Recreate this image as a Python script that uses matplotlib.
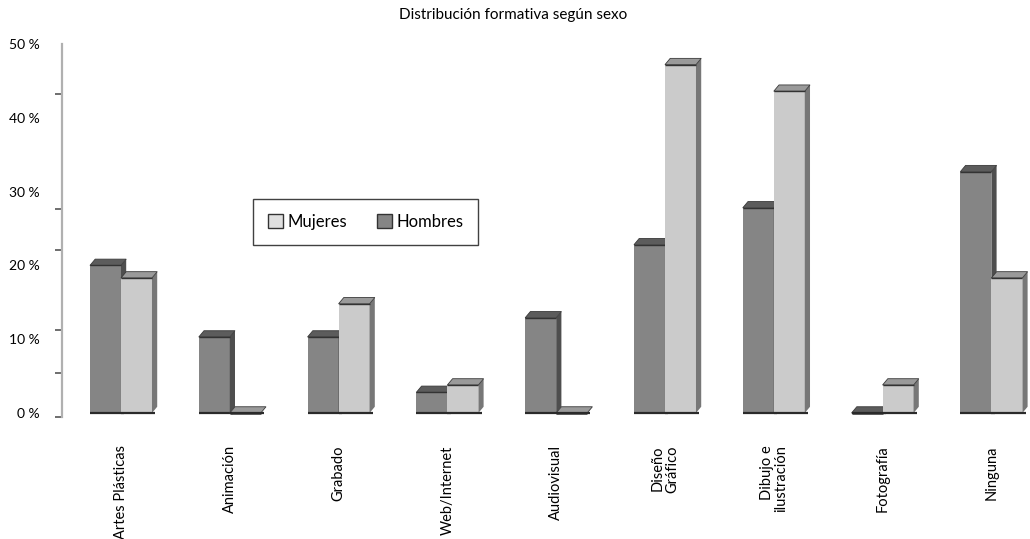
import matplotlib
matplotlib.use("Agg")
import matplotlib.pyplot as plt
from matplotlib.patches import Polygon, Patch
from matplotlib.ticker import FixedLocator

categories = ["Artes Plásticas", "Animación", "Grabado", "Web/Internet", "Audiovisual",
              "Diseño\nGráfico", "Dibujo e\nilustración", "Fotografía", "Ninguna"]
hombres = [20.0, 10.3, 10.3, 2.8, 12.9, 22.8, 27.8, 0.0, 32.7]
mujeres = [18.3, 0.0, 14.8, 3.8, 0.0, 47.2, 43.6, 3.8, 18.3]
y_ticks = [0, 10, 20, 30, 40, 50]
y_minor = [-0.5, 5.4, 11.2, 22.1, 27.6, 43.2, 50]

# face, side, top colours for each series
styles = {
    "Hombres": ("#858585", "#4e4e4e", "#5c5c5c"),
    "Mujeres": ("#cbcbcb", "#777777", "#9a9a9a"),
}

plt.rcParams["font.family"] = ["Lato", "DejaVu Sans"]

fig = plt.figure(figsize=(10.30, 5.39), dpi=100)
ax = fig.add_axes([0.0602, 0.2255, 0.9398, 0.6929])
ax.set_xlim(-0.542, 8.355)
ax.set_ylim(-0.6, 50)

width = 0.285
dx, dy = 0.048, 0.85  # depth of the pseudo-3D extrusion in data units
x = list(range(len(categories)))


def draw_3d(bars, face, side, top, z):
    for b in bars:
        x0 = b.get_x()
        x1 = x0 + b.get_width()
        h = b.get_height()
        ax.add_patch(Polygon([(x1, 0), (x1 + dx, dy), (x1 + dx, h + dy), (x1, h)],
                             closed=True, facecolor=side, edgecolor="none", zorder=z))
        ax.add_patch(Polygon([(x0, h), (x1, h), (x1 + dx, h + dy), (x0 + dx, h + dy)],
                             closed=True, facecolor=top, edgecolor="#3a3a3a",
                             linewidth=0.6, zorder=z))
        ax.plot([x0, x1], [h, h], color="#333333", lw=1.0 if h > 0 else 1.8, zorder=z + 0.1,
                solid_capstyle="butt")
        ax.plot([x0, x1 + dx * 0.6], [0, 0], color="#2a2a2a", lw=1.6, zorder=z + 0.1,
                solid_capstyle="butt")


xs_h = [i - width / 2 for i in x]
xs_m = [i + width / 2 for i in x]
bh = ax.bar(xs_h, hombres, width, color=styles["Hombres"][0], linewidth=0, zorder=2)
draw_3d(bh, *styles["Hombres"], z=2)
bm = ax.bar(xs_m, mujeres, width, color=styles["Mujeres"][0], linewidth=0, zorder=3)
draw_3d(bm, *styles["Mujeres"], z=3)

for s in ["top", "right", "bottom"]:
    ax.spines[s].set_visible(False)
ax.spines["left"].set_color("#b0b0b0")
ax.spines["left"].set_linewidth(1.6)

ax.set_yticks(y_ticks)
ax.set_yticklabels([f"{v} %" for v in y_ticks], fontsize=10)
ax.yaxis.set_minor_locator(FixedLocator(y_minor))
ax.tick_params(axis="y", which="major", length=0, pad=16)
ax.tick_params(axis="y", which="minor", length=5, width=1.2, color="#555555")

ax.set_xticks(x)
ax.set_xticklabels(categories, rotation=90, fontsize=10.5, multialignment="right",
                   linespacing=1.0)
ax.tick_params(axis="x", length=0, pad=20)

fig.text(0.498, 0.972, "Distribución formativa según sexo", ha="center", va="center",
         fontsize=11)

handles = [Patch(facecolor="#e0e0e0", edgecolor="#333333", label="Mujeres"),
           Patch(facecolor="#858585", edgecolor="#333333", label="Hombres")]
leg = ax.legend(handles=handles, ncol=2, loc="center", bbox_to_anchor=(0.314, 0.523),
                fontsize=12, frameon=True, fancybox=False, handlelength=0.9,
                handleheight=0.9, handletextpad=0.25, columnspacing=1.8,
                borderpad=0.9)
leg.get_frame().set_edgecolor("#111111")
leg.get_frame().set_linewidth(1.0)

fig.savefig("out.png", dpi=100)
